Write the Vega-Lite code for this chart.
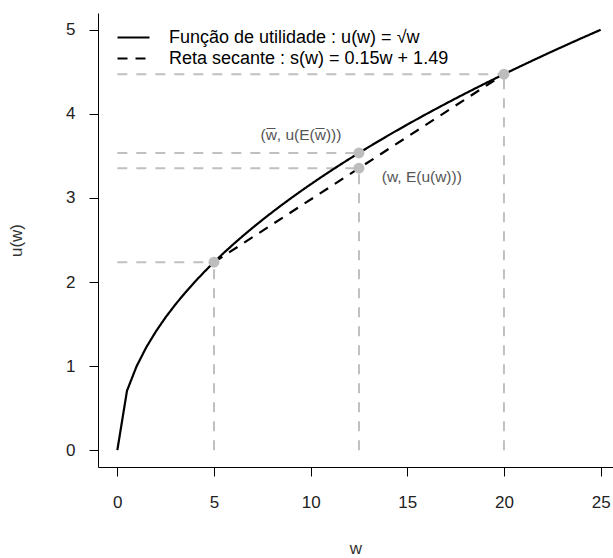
{
  "$schema": "https://vega.github.io/schema/vega-lite/v6.json",
  "autosize": "none",
  "width": 515,
  "height": 454,
  "padding": {"left": 98, "top": 13, "right": 0, "bottom": 91},
  "background": "white",
  "config": {
    "view": {"stroke": null},
    "font": "Liberation Sans",
    "axis": {
      "grid": false,
      "domainColor": "#000000",
      "domainWidth": 1,
      "tickColor": "#000000",
      "tickWidth": 1,
      "tickSize": 9,
      "labelFont": "Liberation Sans",
      "labelFontSize": 17,
      "labelColor": "#222222",
      "titleFont": "Liberation Sans",
      "titleFontSize": 17,
      "titleFontWeight": "normal",
      "titleColor": "#333333"
    }
  },
  "datasets": {
    "guides": [
      {"x1": 0, "x2": 5, "y1": 2.2361, "y2": 2.2361},
      {"x1": 0, "x2": 12.5, "y1": 3.5355, "y2": 3.5355},
      {"x1": 0, "x2": 12.5, "y1": 3.3541, "y2": 3.3541},
      {"x1": 0, "x2": 20, "y1": 4.4721, "y2": 4.4721},
      {"x1": 5, "x2": 5, "y1": 0, "y2": 2.2361},
      {"x1": 12.5, "x2": 12.5, "y1": 0, "y2": 3.3541},
      {"x1": 20, "x2": 20, "y1": 0, "y2": 4.4721}
    ],
    "curves": [
      {"s": "Função de utilidade : u(w) = √w", "w": 0, "u": 0},
      {"s": "Função de utilidade : u(w) = √w", "w": 0.5, "u": 0.7071},
      {"s": "Função de utilidade : u(w) = √w", "w": 1, "u": 1},
      {"s": "Função de utilidade : u(w) = √w", "w": 1.5, "u": 1.2247},
      {"s": "Função de utilidade : u(w) = √w", "w": 2, "u": 1.4142},
      {"s": "Função de utilidade : u(w) = √w", "w": 2.5, "u": 1.5811},
      {"s": "Função de utilidade : u(w) = √w", "w": 3, "u": 1.7321},
      {"s": "Função de utilidade : u(w) = √w", "w": 3.5, "u": 1.8708},
      {"s": "Função de utilidade : u(w) = √w", "w": 4, "u": 2},
      {"s": "Função de utilidade : u(w) = √w", "w": 4.5, "u": 2.1213},
      {"s": "Função de utilidade : u(w) = √w", "w": 5, "u": 2.2361},
      {"s": "Função de utilidade : u(w) = √w", "w": 5.5, "u": 2.3452},
      {"s": "Função de utilidade : u(w) = √w", "w": 6, "u": 2.4495},
      {"s": "Função de utilidade : u(w) = √w", "w": 6.5, "u": 2.5495},
      {"s": "Função de utilidade : u(w) = √w", "w": 7, "u": 2.6458},
      {"s": "Função de utilidade : u(w) = √w", "w": 7.5, "u": 2.7386},
      {"s": "Função de utilidade : u(w) = √w", "w": 8, "u": 2.8284},
      {"s": "Função de utilidade : u(w) = √w", "w": 8.5, "u": 2.9155},
      {"s": "Função de utilidade : u(w) = √w", "w": 9, "u": 3},
      {"s": "Função de utilidade : u(w) = √w", "w": 9.5, "u": 3.0822},
      {"s": "Função de utilidade : u(w) = √w", "w": 10, "u": 3.1623},
      {"s": "Função de utilidade : u(w) = √w", "w": 10.5, "u": 3.2404},
      {"s": "Função de utilidade : u(w) = √w", "w": 11, "u": 3.3166},
      {"s": "Função de utilidade : u(w) = √w", "w": 11.5, "u": 3.3912},
      {"s": "Função de utilidade : u(w) = √w", "w": 12, "u": 3.4641},
      {"s": "Função de utilidade : u(w) = √w", "w": 12.5, "u": 3.5355},
      {"s": "Função de utilidade : u(w) = √w", "w": 13, "u": 3.6056},
      {"s": "Função de utilidade : u(w) = √w", "w": 13.5, "u": 3.6742},
      {"s": "Função de utilidade : u(w) = √w", "w": 14, "u": 3.7417},
      {"s": "Função de utilidade : u(w) = √w", "w": 14.5, "u": 3.8079},
      {"s": "Função de utilidade : u(w) = √w", "w": 15, "u": 3.873},
      {"s": "Função de utilidade : u(w) = √w", "w": 15.5, "u": 3.937},
      {"s": "Função de utilidade : u(w) = √w", "w": 16, "u": 4},
      {"s": "Função de utilidade : u(w) = √w", "w": 16.5, "u": 4.062},
      {"s": "Função de utilidade : u(w) = √w", "w": 17, "u": 4.1231},
      {"s": "Função de utilidade : u(w) = √w", "w": 17.5, "u": 4.1833},
      {"s": "Função de utilidade : u(w) = √w", "w": 18, "u": 4.2426},
      {"s": "Função de utilidade : u(w) = √w", "w": 18.5, "u": 4.3012},
      {"s": "Função de utilidade : u(w) = √w", "w": 19, "u": 4.3589},
      {"s": "Função de utilidade : u(w) = √w", "w": 19.5, "u": 4.4159},
      {"s": "Função de utilidade : u(w) = √w", "w": 20, "u": 4.4721},
      {"s": "Função de utilidade : u(w) = √w", "w": 20.5, "u": 4.5277},
      {"s": "Função de utilidade : u(w) = √w", "w": 21, "u": 4.5826},
      {"s": "Função de utilidade : u(w) = √w", "w": 21.5, "u": 4.6368},
      {"s": "Função de utilidade : u(w) = √w", "w": 22, "u": 4.6904},
      {"s": "Função de utilidade : u(w) = √w", "w": 22.5, "u": 4.7434},
      {"s": "Função de utilidade : u(w) = √w", "w": 23, "u": 4.7958},
      {"s": "Função de utilidade : u(w) = √w", "w": 23.5, "u": 4.8477},
      {"s": "Função de utilidade : u(w) = √w", "w": 24, "u": 4.899},
      {"s": "Função de utilidade : u(w) = √w", "w": 24.5, "u": 4.9497},
      {"s": "Função de utilidade : u(w) = √w", "w": 25, "u": 5},
      {"s": "Reta secante : s(w) = 0.15w + 1.49", "w": 5, "u": 2.2361},
      {"s": "Reta secante : s(w) = 0.15w + 1.49", "w": 20, "u": 4.4721}
    ],
    "points": [
      {"w": 5, "u": 2.2361},
      {"w": 12.5, "u": 3.5355},
      {"w": 12.5, "u": 3.3541},
      {"w": 20, "u": 4.4721}
    ],
    "labels": [
      {"w": 9.5, "u": 3.75, "t": "(w̅, u(E(w̅)))"},
      {"w": 15.75, "u": 3.25, "t": "(w, E(u(w)))"}
    ]
  },
  "layer": [
    {
      "data": {"name": "guides"},
      "mark": {"type": "rule", "color": "#c0c0c0", "strokeWidth": 2, "strokeDash": [10, 9]},
      "encoding": {
        "x": {"field": "x1", "type": "quantitative", "scale": {"domain": [-1, 25.64], "nice": false, "zero": false},
              "axis": {"values": [0, 5, 10, 15, 20, 25], "format": "d", "title": "w", "labelPadding": 18, "titlePadding": 30}},
        "y": {"field": "y1", "type": "quantitative", "scale": {"domain": [-0.2, 5.2], "nice": false, "zero": false},
              "axis": {"values": [0, 1, 2, 3, 4, 5], "format": "d", "title": "u(w)", "labelPadding": 14, "titlePadding": 40}},
        "x2": {"field": "x2"},
        "y2": {"field": "y2"}
      }
    },
    {
      "data": {"name": "curves"},
      "mark": {"type": "line", "color": "#000000", "strokeWidth": 2.2},
      "encoding": {
        "x": {"field": "w", "type": "quantitative"},
        "y": {"field": "u", "type": "quantitative"},
        "detail": {"field": "s"},
        "strokeDash": {
          "field": "s",
          "type": "nominal",
          "scale": {
            "domain": ["Função de utilidade : u(w) = √w", "Reta secante : s(w) = 0.15w + 1.49"],
            "range": [[1, 0], [10, 8]]
          },
          "legend": {
            "title": null,
            "orient": "none",
            "legendX": 24,
            "legendY": 13,
            "symbolType": "M-1.6,0H1.6",
            "symbolSize": 400,
            "symbolStrokeWidth": 2.2,
            "symbolStrokeColor": "#000000",
            "symbolFillColor": "transparent",
            "labelFont": "Liberation Sans",
            "labelFontSize": 18,
            "labelColor": "#000000",
            "labelOffset": 24,
            "rowPadding": -2,
            "labelLimit": 450
          }
        }
      }
    },
    {
      "data": {"name": "points"},
      "mark": {"type": "circle", "color": "#bdbdbd", "opacity": 1, "size": 120},
      "encoding": {
        "x": {"field": "w", "type": "quantitative"},
        "y": {"field": "u", "type": "quantitative"}
      }
    },
    {
      "data": {"name": "labels"},
      "mark": {"type": "text", "font": "Liberation Sans", "fontSize": 15.5, "color": "#555555", "align": "center", "baseline": "middle"},
      "encoding": {
        "x": {"field": "w", "type": "quantitative"},
        "y": {"field": "u", "type": "quantitative"},
        "text": {"field": "t"}
      }
    }
  ]
}
